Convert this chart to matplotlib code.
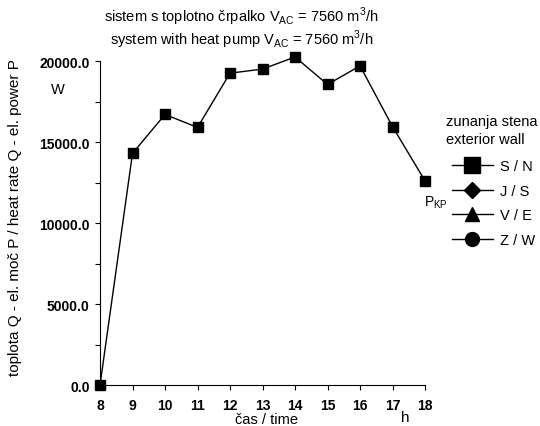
import matplotlib.pyplot as plt
from matplotlib.lines import Line2D

plt.rcParams['font.family'] = ['Liberation Sans', 'DejaVu Sans']

# ura / hour
ure = [8, 9, 10, 11, 12, 13, 14, 15, 16, 17, 18]
# toplota Q - el. moc P (W), zunanja stena S / N
moc_sn = [0, 14300, 16700, 15900, 19250, 19500, 20250, 18550, 19700, 15950, 12600]

y_ticks = [0, 2500, 5000, 7500, 10000, 12500, 15000, 17500, 20000]
y_labels = ['0.0', '', '5000.0', '', '10000.0', '', '15000.0', '', '20000.0']

legenda = ['S / N', 'J / S', 'V / E', 'Z / W']
markerji = ['s', 'D', '^', 'o']
velikosti = [11, 8.5, 10, 10]

fig = plt.figure(figsize=(5.4, 4.27), dpi=100)
ax = fig.add_axes([0.1852, 0.0960, 0.6019, 0.7588])

ax.plot(ure, moc_sn, color='black', lw=1, marker='s', ms=6.5, clip_on=False, zorder=3)

ax.set_xlim(8, 18)
ax.set_ylim(0, 20000)
ax.set_xticks(ure)
ax.set_xticklabels([str(u) for u in ure], fontweight='bold', fontsize=10)
ax.set_yticks(y_ticks)
ax.set_yticklabels(y_labels, fontweight='bold', fontsize=10)
ax.tick_params(direction='out', length=3.5, width=0.8)
ax.tick_params(axis='x', pad=6)
ax.tick_params(axis='y', pad=4)

for s in ['top', 'right']:
    ax.spines[s].set_visible(False)

# osi in enote
fig.text(0.494, 0.016, 'čas / time', fontsize=10.5, ha='center', va='center')
fig.text(0.028, 0.49, 'toplota Q - el. moč P / heat rate Q - el. power P',
         fontsize=11, rotation=90, ha='center', va='center')
fig.text(0.095, 0.79, 'W', fontsize=10.5, ha='left', va='center')
fig.text(0.75, 0.021, 'h', fontsize=11, ha='center', va='center')
ax.annotate('P$_{\\mathregular{KP}}$', (18, 12600), xytext=(-1, -9),
            textcoords='offset points', fontsize=10, ha='left', va='top')

# naslov
fig.text(0.4476, 0.948, 'sistem s toplotno črpalko V$_{\\mathregular{AC}}$ = 7560 m$^{\\mathregular{3}}$/h',
         ha='center', va='baseline', fontsize=10.5)
fig.text(0.4476, 0.894, 'system with heat pump V$_{\\mathregular{AC}}$ = 7560 m$^{\\mathregular{3}}$/h',
         ha='center', va='baseline', fontsize=10.5)

# legenda
fig.text(0.826, 0.714, 'zunanja stena', fontsize=10.5, ha='left', va='center')
fig.text(0.826, 0.672, 'exterior wall', fontsize=10.5, ha='left', va='center')
handles = [Line2D([], [], color='black', lw=1, marker=m, ms=v)
           for m, v in zip(markerji, velikosti)]
fig.legend(handles, legenda, loc='upper left', bbox_to_anchor=(0.837, 0.625),
           frameon=False, fontsize=10.5, handlelength=2.8, labelspacing=0.72,
           handletextpad=0.5, borderpad=0, borderaxespad=0)

fig.savefig('out.png', dpi=100)
